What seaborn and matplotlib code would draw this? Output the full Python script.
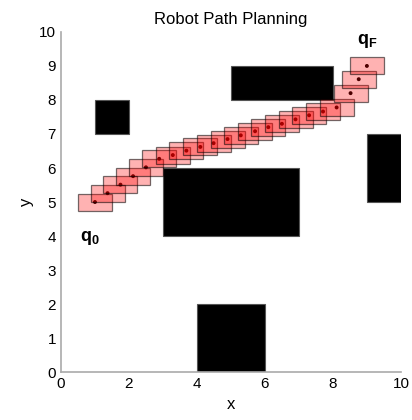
import matplotlib
matplotlib.use("Agg")
import matplotlib.pyplot as plt
from matplotlib.patches import Rectangle
import seaborn as sns
import pandas as pd

# obstacles: (x, y, width, height)
obs_x = [1, 3, 5, 4, 9]
obs_y = [7, 4, 8, 0, 5]
obs_w = [1, 4, 3, 2, 1]
obs_h = [1, 2, 1, 2, 2]

# robot path configurations
path_x = [1.0, 1.37, 1.75, 2.12, 2.5, 2.89, 3.29, 3.69, 4.1, 4.49, 4.9,
          5.29, 5.71, 6.1, 6.5, 6.9, 7.3, 7.71, 8.11, 8.52, 8.76, 9.0]
path_y = [5.0, 5.26, 5.51, 5.76, 6.02, 6.27, 6.38, 6.51, 6.62, 6.73, 6.85,
          6.96, 7.08, 7.2, 7.3, 7.43, 7.55, 7.66, 7.78, 8.2, 8.61, 9.0]
robot_w = 1.0
robot_h = 0.5

df = pd.DataFrame({'x': path_x, 'y': path_y})

sns.set_style("white")
plt.rcParams['xtick.direction'] = 'in'
plt.rcParams['ytick.direction'] = 'in'
plt.rcParams['font.family'] = ['Liberation Sans', 'DejaVu Sans']
plt.rcParams['mathtext.fontset'] = 'custom'
plt.rcParams['mathtext.bf'] = 'Liberation Sans:bold'
plt.rcParams['mathtext.rm'] = 'Liberation Sans'
plt.rcParams['text.color'] = 'black'
plt.rcParams['axes.labelcolor'] = 'black'
plt.rcParams['xtick.labelcolor'] = 'black'
plt.rcParams['ytick.labelcolor'] = 'black'

fig = plt.figure(figsize=(4.12, 4.2), dpi=100)
ax = fig.add_axes([0.148, 0.114, 0.825, 0.81])

for x, y, w, h in zip(obs_x, obs_y, obs_w, obs_h):
    ax.add_patch(Rectangle((x, y), w, h, facecolor='black', edgecolor='#555555', lw=0.8, zorder=2))

sns.scatterplot(data=df, x='x', y='y', color='black', s=8, edgecolor='none', ax=ax, zorder=3)

for x, y in zip(path_x, path_y):
    ax.add_patch(Rectangle((x - robot_w / 2, y - robot_h / 2), robot_w, robot_h,
                           facecolor=(1, 0, 0, 0.3), edgecolor=(0, 0, 0, 0.55), lw=0.9, zorder=4))

ax.text(0.85, 3.94, r'$\mathbf{q_0}$', fontsize=13, ha='center', va='center')
ax.text(9.0, 9.72, r'$\mathbf{q_F}$', fontsize=13, ha='center', va='center')

ax.set_xlim(0, 10)
ax.set_ylim(0, 10)
ax.set_xticks(range(0, 11, 2))
ax.set_yticks(range(0, 11, 1))
ax.set_xlabel('x', fontsize=12)
ax.set_ylabel('y', fontsize=12)
ax.set_title('Robot Path Planning', fontsize=12)
ax.tick_params(labelsize=11, length=3, color='#999999')
sns.despine(ax=ax)
for s in ['left', 'bottom']:
    ax.spines[s].set_color('#aaaaaa')
    ax.spines[s].set_linewidth(1.2)

fig.savefig('out.png', dpi=100)
